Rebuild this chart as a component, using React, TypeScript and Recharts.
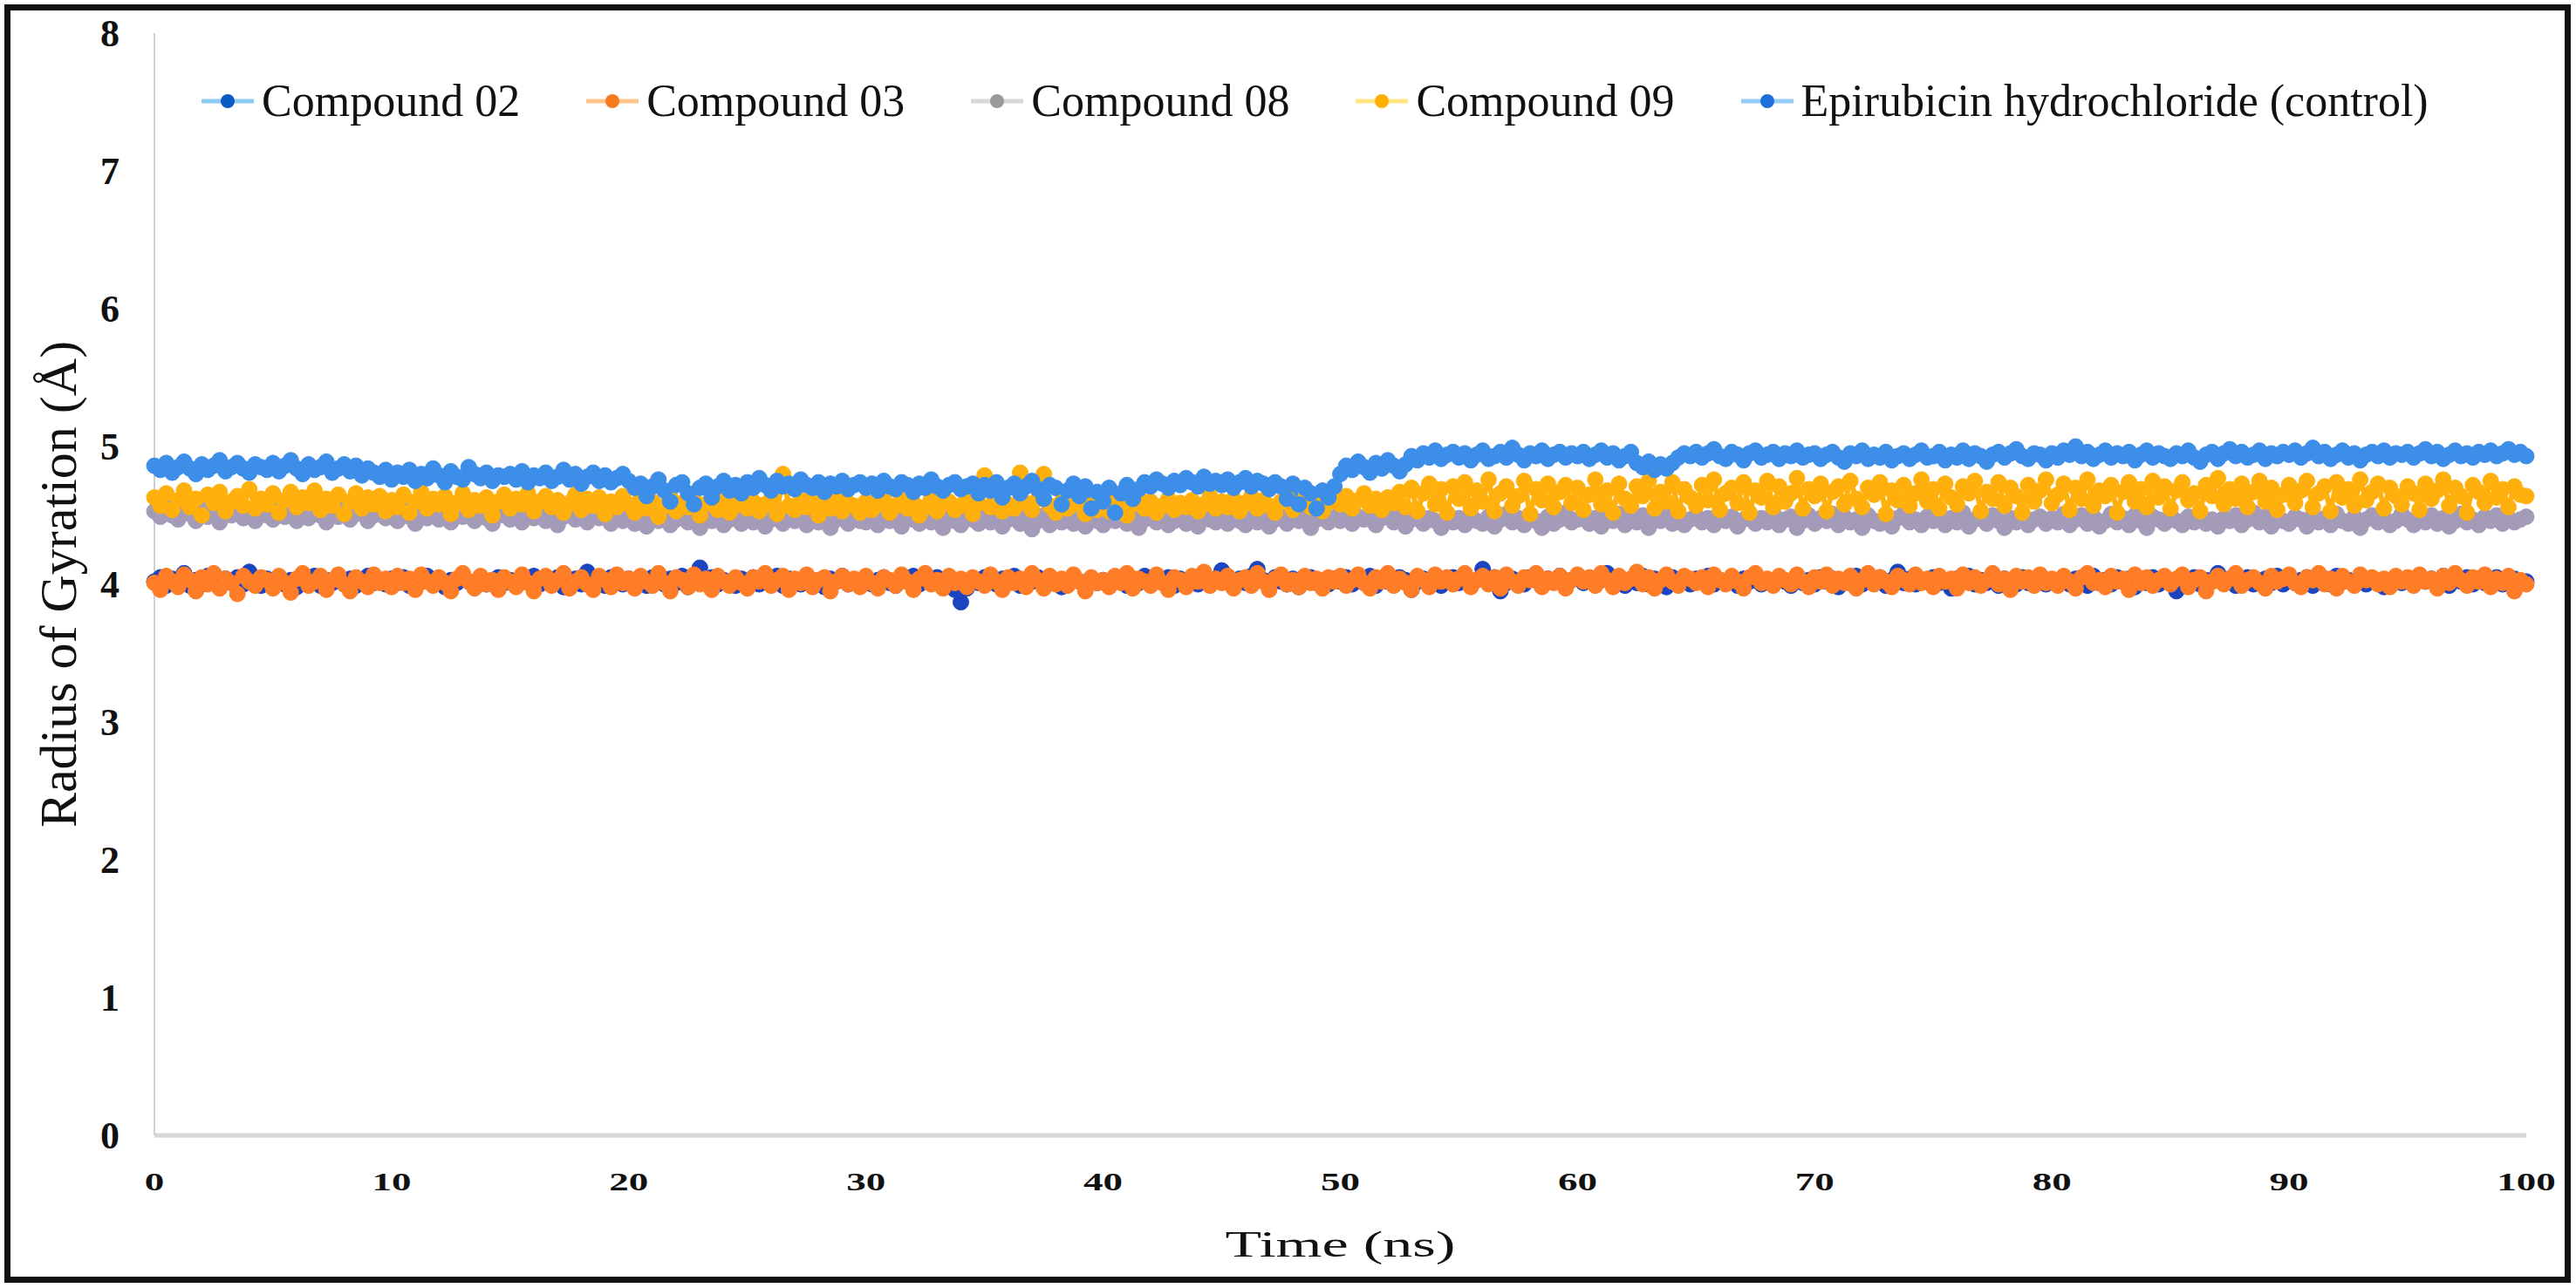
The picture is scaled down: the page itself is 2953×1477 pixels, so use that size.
import { LineChart, Line, XAxis, YAxis, Legend, Label } from 'recharts';

const SERIF = "'Liberation Serif', 'DejaVu Serif', serif";

// sampling of the trajectory, ns between frames
const TIME_STEP_NS = 0.25;
const X_TICKS = [0, 10, 20, 30, 40, 50, 60, 70, 80, 90, 100];
const Y_TICKS = [0, 1, 2, 3, 4, 5, 6, 7, 8];

// one row = 5 ns
const COMPOUND_02 = [
  4.02, 4.05, 3.99, 4.04, 4.01, 4.08, 3.99, 4.03, 4.00, 4.06, 4.02, 3.98, 4.04, 4.01, 4.05, 4.00, 4.09, 4.02, 3.99, 4.04,
  4.01, 4.05, 4.00, 4.03, 3.98, 4.04, 4.02, 4.06, 3.99, 4.03, 4.01, 4.05, 4.00, 4.04, 3.99, 4.02, 4.06, 4.01, 4.03, 4.00,
  4.04, 4.01, 4.05, 3.99, 4.03, 4.02, 4.06, 4.00, 4.04, 3.98, 4.03, 4.01, 4.05, 4.02, 3.99, 4.04, 4.00, 4.03, 4.05, 4.01,
  4.03, 3.99, 4.04, 4.02, 4.06, 4.00, 4.03, 4.01, 4.05, 3.98, 4.02, 4.04, 4.00, 4.09, 4.01, 4.03, 3.99, 4.05, 4.02, 4.00,
  4.04, 4.01, 4.03, 3.99, 4.05, 4.02, 4.00, 4.04, 4.01, 4.06, 3.98, 4.03, 4.12, 4.02, 4.05, 4.00, 4.03, 4.01, 3.99, 4.04,
  4.02, 4.05, 4.00, 4.03, 4.01, 4.06, 3.99, 4.04, 4.02, 4.00, 4.05, 4.01, 4.03, 3.98, 4.04, 4.02, 4.06, 4.00, 4.03, 4.01,
  4.04, 4.00, 4.03, 4.05, 4.01, 3.99, 4.04, 4.02, 4.06, 4.00, 4.03, 4.01, 4.05, 3.99, 4.02, 3.96, 3.87, 3.97, 4.03, 4.01,
  4.05, 4.02, 4.00, 4.04, 4.01, 4.06, 3.99, 4.03, 4.02, 4.05, 4.00, 4.04, 4.01, 3.98, 4.03, 4.05, 4.02, 4.00, 4.04, 4.01,
  4.03, 4.00, 4.05, 4.02, 3.99, 4.04, 4.01, 4.06, 4.00, 4.03, 4.02, 4.05, 3.99, 4.04, 4.01, 4.03, 4.00, 4.06, 4.02, 4.04,
  4.10, 4.02, 4.00, 4.04, 4.01, 4.06, 4.11, 4.03, 3.99, 4.05, 4.02, 4.00, 4.04, 3.98, 4.03, 4.05, 4.01, 4.03, 4.00, 4.04,
  4.02, 4.05, 4.00, 4.03, 4.01, 4.06, 3.99, 4.04, 4.02, 4.00, 4.05, 4.03, 3.96, 4.02, 4.04, 4.01, 4.06, 3.99, 4.03, 4.05,
  4.01, 4.04, 4.00, 4.03, 4.11, 4.02, 4.05, 3.95, 4.01, 4.04, 4.02, 4.00, 4.05, 4.03, 3.99, 4.04, 4.02, 4.06, 4.00, 4.03,
  4.05, 4.01, 4.04, 4.00, 4.03, 4.08, 4.02, 4.05, 3.99, 4.03, 4.01, 4.06, 4.00, 4.04, 4.02, 3.98, 4.05, 4.01, 4.03, 4.00,
  4.04, 4.02, 4.06, 4.00, 4.03, 4.01, 4.05, 3.99, 4.04, 4.02, 4.07, 4.00, 4.03, 4.01, 4.05, 4.02, 3.99, 4.04, 4.01, 4.03,
  4.00, 4.05, 4.02, 4.04, 3.98, 4.03, 4.01, 4.06, 4.00, 4.04, 4.02, 4.05, 3.99, 4.03, 4.09, 4.01, 4.04, 4.00, 4.03, 4.02,
  4.05, 4.01, 4.03, 3.97, 4.04, 4.02, 4.06, 4.00, 4.03, 4.01, 4.05, 3.99, 4.04, 4.02, 4.00, 4.05, 4.01, 4.03, 4.06, 4.00,
  4.03, 4.01, 4.05, 4.00, 4.04, 4.02, 3.99, 4.06, 4.01, 4.03, 4.00, 4.05, 4.02, 4.04, 3.98, 4.03, 4.01, 4.05, 4.00, 4.04,
  4.02, 3.95, 4.04, 4.01, 4.05, 4.00, 4.03, 4.02, 4.08, 4.01, 4.04, 3.99, 4.03, 4.05, 4.00, 4.02, 4.04, 4.01, 4.06, 4.00,
  4.04, 4.01, 4.03, 4.05, 3.99, 4.02, 4.04, 4.00, 4.06, 4.02, 4.03, 4.01, 4.05, 4.00, 4.04, 4.02, 3.98, 4.03, 4.05, 4.01,
  4.03, 4.00, 4.05, 4.02, 4.04, 4.01, 4.06, 3.99, 4.03, 4.02, 4.05, 4.00, 4.04, 4.01, 4.03, 4.05, 4.00, 4.02, 4.04, 4.01,
  4.02,
];

const COMPOUND_03 = [
  4.01, 3.96, 4.06, 4.02, 3.98, 4.07, 4.03, 3.95, 4.05, 4.00, 4.08, 3.97, 4.04, 4.01, 3.93, 4.06, 4.02, 3.99, 4.05, 4.03,
  3.97, 4.06, 4.01, 3.94, 4.04, 4.08, 3.99, 4.02, 4.06, 3.96, 4.03, 4.07, 4.00, 3.95, 4.05, 4.02, 3.98, 4.07, 4.01, 4.04,
  3.98, 4.06, 4.01, 4.04, 3.96, 4.07, 4.02, 3.99, 4.05, 4.01, 3.95, 4.04, 4.08, 4.02, 3.97, 4.06, 4.00, 4.03, 3.96, 4.05,
  4.02, 3.98, 4.07, 4.01, 3.95, 4.04, 4.06, 3.99, 4.03, 4.08, 3.97, 4.02, 4.05, 4.00, 3.96, 4.06, 4.03, 3.98, 4.07, 4.01,
  4.04, 3.97, 4.06, 4.02, 3.99, 4.08, 4.01, 3.95, 4.05, 4.03, 3.98, 4.07, 4.00, 4.04, 3.96, 4.06, 4.02, 3.99, 4.05, 4.01,
  3.97, 4.05, 4.02, 4.08, 3.99, 4.03, 4.06, 3.96, 4.04, 4.01, 4.07, 3.98, 4.03, 4.05, 3.95, 4.02, 4.06, 4.00, 4.04, 3.98,
  4.06, 4.01, 3.97, 4.05, 4.03, 3.99, 4.07, 4.02, 3.96, 4.04, 4.08, 4.00, 4.03, 3.97, 4.06, 4.01, 4.04, 3.98, 4.05, 4.02,
  3.99, 4.07, 4.02, 3.96, 4.05, 4.01, 4.04, 3.98, 4.08, 4.03, 3.97, 4.06, 4.00, 4.04, 3.99, 4.07, 4.02, 3.95, 4.05, 4.01,
  4.03, 3.98, 4.06, 4.01, 4.08, 3.97, 4.04, 4.02, 3.99, 4.07, 4.01, 3.96, 4.05, 4.03, 3.98, 4.06, 4.02, 4.09, 3.99, 4.04,
  4.01, 4.06, 3.97, 4.03, 4.05, 3.99, 4.08, 4.02, 3.96, 4.04, 4.07, 4.00, 4.03, 3.98, 4.06, 4.01, 4.04, 3.97, 4.05, 4.02,
  4.06, 3.99, 4.03, 4.07, 4.01, 3.97, 4.05, 4.02, 4.08, 3.99, 4.04, 4.01, 3.96, 4.06, 4.03, 3.98, 4.07, 4.02, 4.05, 4.00,
  4.04, 4.08, 3.98, 4.03, 4.06, 4.00, 4.05, 3.97, 4.07, 4.02, 3.99, 4.05, 4.03, 4.08, 3.98, 4.04, 4.01, 4.06, 3.97, 4.03,
  4.07, 4.02, 4.05, 3.99, 4.08, 4.03, 3.98, 4.06, 4.01, 4.04, 4.09, 4.00, 4.05, 3.97, 4.03, 4.07, 4.02, 3.99, 4.06, 4.04,
  4.01, 4.05, 3.98, 4.07, 4.03, 4.00, 4.06, 4.02, 3.97, 4.05, 4.08, 4.01, 4.04, 3.99, 4.06, 4.03, 4.00, 4.07, 4.02, 3.98,
  4.05, 4.02, 4.07, 3.99, 4.04, 4.01, 4.06, 3.97, 4.03, 4.08, 4.00, 4.05, 4.02, 3.98, 4.06, 4.03, 4.00, 4.07, 4.01, 4.04,
  3.98, 4.06, 4.02, 4.04, 3.97, 4.07, 4.01, 4.05, 3.99, 4.03, 4.08, 4.00, 4.04, 3.96, 4.06, 4.02, 4.05, 3.99, 4.07, 4.01,
  4.04, 3.99, 4.06, 4.02, 3.97, 4.05, 4.08, 4.01, 4.03, 3.98, 4.06, 4.02, 4.04, 3.96, 4.07, 4.01, 4.05, 3.99, 4.03, 4.06,
  4.00, 4.04, 4.07, 3.98, 4.03, 4.05, 3.95, 4.02, 4.06, 4.00, 4.04, 4.08, 3.99, 4.03, 4.05, 4.01, 3.97, 4.06, 4.02, 4.04,
  4.07, 4.01, 3.98, 4.05, 4.03, 4.08, 4.00, 4.04, 3.97, 4.06, 4.02, 3.99, 4.07, 4.03, 4.05, 4.00, 4.04, 3.98, 4.06, 4.02,
  4.05, 3.99, 4.07, 4.02, 4.04, 3.97, 4.06, 4.01, 4.08, 4.03, 3.99, 4.05, 4.02, 4.07, 3.98, 4.04, 4.01, 4.06, 3.95, 4.03,
  4.00,
];

const COMPOUND_08 = [
  4.53, 4.49, 4.56, 4.50, 4.47, 4.54, 4.51, 4.46, 4.55, 4.49, 4.52, 4.45, 4.53, 4.50, 4.57, 4.48, 4.52, 4.46, 4.54, 4.50,
  4.47, 4.53, 4.49, 4.55, 4.46, 4.51, 4.48, 4.54, 4.50, 4.45, 4.52, 4.49, 4.56, 4.47, 4.51, 4.53, 4.46, 4.50, 4.54, 4.48,
  4.51, 4.46, 4.53, 4.49, 4.44, 4.52, 4.48, 4.55, 4.47, 4.50, 4.45, 4.53, 4.49, 4.51, 4.46, 4.54, 4.48, 4.44, 4.52, 4.50,
  4.47, 4.52, 4.45, 4.50, 4.48, 4.53, 4.46, 4.51, 4.43, 4.49, 4.52, 4.47, 4.50, 4.45, 4.53, 4.48, 4.51, 4.44, 4.49, 4.46,
  4.50, 4.44, 4.48, 4.42, 4.51, 4.46, 4.49, 4.43, 4.47, 4.52, 4.45, 4.48, 4.41, 4.50, 4.46, 4.49, 4.43, 4.47, 4.51, 4.44,
  4.48, 4.45, 4.50, 4.42, 4.47, 4.51, 4.44, 4.49, 4.46, 4.52, 4.43, 4.48, 4.45, 4.50, 4.41, 4.47, 4.49, 4.44, 4.51, 4.46,
  4.45, 4.50, 4.43, 4.48, 4.46, 4.52, 4.42, 4.49, 4.47, 4.44, 4.51, 4.45, 4.48, 4.41, 4.50, 4.46, 4.43, 4.49, 4.47, 4.44,
  4.50, 4.45, 4.48, 4.42, 4.47, 4.51, 4.44, 4.49, 4.40, 4.46, 4.50, 4.43, 4.48, 4.45, 4.52, 4.44, 4.47, 4.42, 4.49, 4.46,
  4.43, 4.49, 4.46, 4.51, 4.44, 4.48, 4.41, 4.47, 4.50, 4.45, 4.49, 4.43, 4.46, 4.52, 4.44, 4.48, 4.42, 4.50, 4.47, 4.45,
  4.49, 4.44, 4.51, 4.46, 4.43, 4.48, 4.45, 4.50, 4.42, 4.47, 4.49, 4.44, 4.52, 4.46, 4.48, 4.41, 4.47, 4.50, 4.45, 4.49,
  4.46, 4.51, 4.44, 4.49, 4.47, 4.52, 4.43, 4.48, 4.50, 4.45, 4.49, 4.42, 4.47, 4.51, 4.44, 4.48, 4.46, 4.41, 4.49, 4.45,
  4.48, 4.43, 4.50, 4.46, 4.44, 4.49, 4.42, 4.47, 4.51, 4.45, 4.48, 4.43, 4.50, 4.46, 4.41, 4.49, 4.44, 4.47, 4.52, 4.45,
  4.47, 4.50, 4.44, 4.48, 4.42, 4.49, 4.46, 4.51, 4.43, 4.47, 4.45, 4.50, 4.41, 4.48, 4.46, 4.52, 4.44, 4.49, 4.43, 4.47,
  4.50, 4.45, 4.48, 4.43, 4.51, 4.46, 4.49, 4.42, 4.47, 4.50, 4.44, 4.48, 4.45, 4.52, 4.43, 4.47, 4.49, 4.41, 4.46, 4.50,
  4.44, 4.48, 4.46, 4.51, 4.43, 4.49, 4.45, 4.47, 4.41, 4.50, 4.46, 4.44, 4.49, 4.42, 4.48, 4.51, 4.45, 4.47, 4.43, 4.49,
  4.46, 4.50, 4.43, 4.48, 4.45, 4.52, 4.42, 4.47, 4.49, 4.44, 4.50, 4.46, 4.41, 4.48, 4.45, 4.51, 4.43, 4.47, 4.49, 4.44,
  4.48, 4.45, 4.51, 4.43, 4.47, 4.50, 4.44, 4.49, 4.42, 4.46, 4.51, 4.45, 4.48, 4.43, 4.50, 4.46, 4.41, 4.49, 4.47, 4.44,
  4.50, 4.46, 4.43, 4.49, 4.45, 4.51, 4.44, 4.47, 4.42, 4.48, 4.46, 4.50, 4.43, 4.47, 4.52, 4.45, 4.49, 4.42, 4.48, 4.46,
  4.44, 4.49, 4.47, 4.42, 4.50, 4.45, 4.48, 4.43, 4.51, 4.46, 4.44, 4.49, 4.41, 4.47, 4.50, 4.45, 4.48, 4.43, 4.46, 4.51,
  4.47, 4.43, 4.49, 4.45, 4.50, 4.44, 4.48, 4.42, 4.46, 4.51, 4.45, 4.47, 4.43, 4.49, 4.46, 4.50, 4.44, 4.48, 4.45, 4.47,
  4.49,
];

const COMPOUND_09 = [
  4.63, 4.57, 4.66, 4.54, 4.61, 4.68, 4.56, 4.62, 4.50, 4.65, 4.59, 4.67, 4.53, 4.60, 4.64, 4.57, 4.69, 4.55, 4.62, 4.58,
  4.66, 4.52, 4.61, 4.67, 4.56, 4.63, 4.59, 4.68, 4.54, 4.62, 4.57, 4.65, 4.51, 4.60, 4.66, 4.55, 4.63, 4.58, 4.64, 4.53,
  4.61, 4.56, 4.65, 4.52, 4.60, 4.67, 4.55, 4.62, 4.58, 4.64, 4.51, 4.59, 4.66, 4.54, 4.61, 4.57, 4.63, 4.50, 4.60, 4.65,
  4.55, 4.62, 4.58, 4.66, 4.53, 4.60, 4.64, 4.56, 4.61, 4.52, 4.59, 4.65, 4.54, 4.62, 4.57, 4.63, 4.51, 4.60, 4.56, 4.64,
  4.58, 4.52, 4.62, 4.55, 4.60, 4.49, 4.57, 4.63, 4.53, 4.59, 4.56, 4.61, 4.50, 4.58, 4.64, 4.54, 4.60, 4.52, 4.57, 4.62,
  4.55, 4.60, 4.53, 4.58, 4.62, 4.51, 4.80, 4.57, 4.54, 4.61, 4.56, 4.63, 4.50, 4.58, 4.55, 4.62, 4.53, 4.59, 4.57, 4.52,
  4.60, 4.54, 4.58, 4.63, 4.52, 4.57, 4.61, 4.55, 4.59, 4.50, 4.56, 4.62, 4.53, 4.58, 4.60, 4.54, 4.57, 4.63, 4.51, 4.59,
  4.79, 4.56, 4.60, 4.53, 4.58, 4.55, 4.81, 4.59, 4.54, 4.62, 4.80, 4.57, 4.52, 4.60, 4.55, 4.58, 4.62, 4.51, 4.57, 4.54,
  4.59, 4.53, 4.61, 4.56, 4.50, 4.58, 4.63, 4.55, 4.60, 4.52, 4.57, 4.62, 4.54, 4.59, 4.56, 4.61, 4.53, 4.58, 4.64, 4.55,
  4.60, 4.56, 4.62, 4.53, 4.59, 4.64, 4.55, 4.61, 4.57, 4.52, 4.60, 4.63, 4.54, 4.58, 4.62, 4.56, 4.60, 4.53, 4.59, 4.63,
  4.58, 4.64, 4.55, 4.61, 4.66, 4.57, 4.62, 4.54, 4.63, 4.59, 4.67, 4.56, 4.70, 4.53, 4.66, 4.73, 4.58, 4.69, 4.52, 4.71,
  4.62, 4.74, 4.55, 4.68, 4.60, 4.76, 4.53, 4.66, 4.71, 4.57, 4.64, 4.75, 4.51, 4.69, 4.61, 4.73, 4.56, 4.67, 4.72, 4.59,
  4.70, 4.54, 4.65, 4.76, 4.58, 4.68, 4.52, 4.73, 4.62, 4.57, 4.71, 4.64, 4.75, 4.55, 4.67, 4.60, 4.74, 4.53, 4.69, 4.63,
  4.57, 4.72, 4.61, 4.76, 4.54, 4.66, 4.70, 4.59, 4.74, 4.52, 4.68, 4.63, 4.75, 4.56, 4.71, 4.60, 4.66, 4.77, 4.55, 4.69,
  4.64, 4.73, 4.53, 4.67, 4.71, 4.58, 4.75, 4.62, 4.56, 4.70, 4.65, 4.74, 4.51, 4.68, 4.61, 4.72, 4.57, 4.66, 4.76, 4.60,
  4.69, 4.55, 4.73, 4.63, 4.58, 4.71, 4.66, 4.75, 4.53, 4.67, 4.62, 4.74, 4.57, 4.70, 4.64, 4.52, 4.72, 4.60, 4.68, 4.76,
  4.59, 4.65, 4.73, 4.54, 4.70, 4.62, 4.76, 4.57, 4.68, 4.64, 4.72, 4.52, 4.67, 4.74, 4.60, 4.69, 4.56, 4.75, 4.63, 4.71,
  4.55, 4.68, 4.74, 4.61, 4.66, 4.53, 4.72, 4.64, 4.77, 4.58, 4.69, 4.62, 4.73, 4.56, 4.67, 4.75, 4.60, 4.70, 4.54, 4.65,
  4.72, 4.59, 4.68, 4.75, 4.56, 4.66, 4.71, 4.53, 4.74, 4.63, 4.69, 4.57, 4.76, 4.61, 4.67, 4.73, 4.55, 4.70, 4.64, 4.58,
  4.71, 4.66, 4.54, 4.73, 4.62, 4.68, 4.76, 4.57, 4.70, 4.64, 4.52, 4.72, 4.67, 4.59, 4.75, 4.63, 4.69, 4.56, 4.71, 4.65,
  4.64,
];

const EPIRUBICIN = [
  4.86, 4.83, 4.88, 4.81, 4.85, 4.89, 4.84, 4.80, 4.87, 4.83, 4.86, 4.90, 4.82, 4.85, 4.88, 4.84, 4.81, 4.87, 4.85, 4.83,
  4.88, 4.82, 4.86, 4.90, 4.84, 4.80, 4.87, 4.83, 4.85, 4.89, 4.81, 4.84, 4.87, 4.82, 4.86, 4.79, 4.84, 4.81, 4.78, 4.83,
  4.76, 4.81, 4.78, 4.83, 4.75, 4.80, 4.77, 4.84, 4.79, 4.74, 4.82, 4.78, 4.76, 4.85, 4.80, 4.77, 4.81, 4.75, 4.79, 4.78,
  4.80, 4.76, 4.82, 4.74, 4.79, 4.77, 4.81, 4.75, 4.78, 4.83, 4.76, 4.80, 4.73, 4.78, 4.81, 4.75, 4.79, 4.74, 4.77, 4.80,
  4.75, 4.70, 4.73, 4.64, 4.71, 4.76, 4.68, 4.60, 4.72, 4.74, 4.66, 4.58, 4.70, 4.73, 4.63, 4.71, 4.75, 4.68, 4.72, 4.66,
  4.74, 4.70, 4.77, 4.72, 4.68, 4.75, 4.71, 4.73, 4.69, 4.76, 4.72, 4.70, 4.74, 4.67, 4.73, 4.71, 4.75, 4.69, 4.72, 4.74,
  4.70, 4.73, 4.68, 4.75, 4.71, 4.69, 4.74, 4.72, 4.67, 4.73, 4.70, 4.76, 4.71, 4.68, 4.72, 4.74, 4.69, 4.71, 4.73, 4.66,
  4.72, 4.68, 4.74, 4.63, 4.70, 4.73, 4.66, 4.71, 4.75, 4.69, 4.62, 4.72, 4.70, 4.58, 4.68, 4.73, 4.64, 4.71, 4.55, 4.67,
  4.60, 4.70, 4.52, 4.66, 4.72, 4.62, 4.69, 4.74, 4.71, 4.76, 4.73, 4.70, 4.75, 4.72, 4.77, 4.74, 4.71, 4.78, 4.73, 4.75,
  4.72, 4.76, 4.70, 4.74, 4.77, 4.71, 4.75, 4.73, 4.69, 4.74, 4.71, 4.62, 4.73, 4.58, 4.70, 4.66, 4.55, 4.68, 4.63, 4.71,
  4.80, 4.86, 4.83, 4.89, 4.85, 4.81, 4.88, 4.84, 4.90, 4.86, 4.82, 4.87, 4.93, 4.90, 4.95, 4.92, 4.97, 4.91, 4.94, 4.96,
  4.92, 4.95, 4.90, 4.94, 4.97, 4.91, 4.93, 4.96, 4.92, 4.99, 4.94, 4.90, 4.95, 4.93, 4.97, 4.91, 4.94, 4.96, 4.92, 4.95,
  4.93, 4.96, 4.91, 4.94, 4.97, 4.92, 4.95, 4.90, 4.93, 4.96, 4.88, 4.85, 4.89, 4.83, 4.87, 4.84, 4.88, 4.92, 4.95, 4.93,
  4.96, 4.92, 4.95, 4.98, 4.93, 4.91, 4.96, 4.94, 4.90, 4.95, 4.97, 4.92, 4.94, 4.96, 4.91, 4.95, 4.93, 4.97, 4.92, 4.94,
  4.95, 4.91, 4.94, 4.96, 4.92, 4.89, 4.95, 4.93, 4.97, 4.91, 4.94, 4.92, 4.96, 4.90, 4.93, 4.95, 4.91, 4.94, 4.97, 4.92,
  4.93, 4.96, 4.90, 4.94, 4.92, 4.97, 4.91, 4.95, 4.93, 4.89, 4.94, 4.96, 4.92, 4.95, 4.98, 4.93, 4.91, 4.95, 4.94, 4.90,
  4.95, 4.92, 4.97, 4.94, 5.00, 4.93, 4.96, 4.91, 4.94, 4.97, 4.92, 4.95, 4.93, 4.96, 4.90, 4.94, 4.97, 4.92, 4.95, 4.93,
  4.91, 4.95, 4.93, 4.97, 4.92, 4.89, 4.94, 4.96, 4.91, 4.95, 4.98, 4.93, 4.96, 4.92, 4.94, 4.97, 4.91, 4.95, 4.93, 4.96,
  4.94, 4.97, 4.92, 4.95, 4.99, 4.93, 4.96, 4.91, 4.94, 4.97, 4.92, 4.95, 4.90, 4.94, 4.96, 4.93, 4.97, 4.92, 4.95, 4.94,
  4.96, 4.92, 4.95, 4.98, 4.93, 4.96, 4.91, 4.94, 4.97, 4.93, 4.95, 4.92, 4.96, 4.94, 4.97, 4.93, 4.95, 4.98, 4.94, 4.96,
  4.93,
];

// drawing order follows the legend: later series sit on top
const SERIES = [
  { key: 'c02', name: 'Compound 02', values: COMPOUND_02, color: '#1b45c0', legendLine: '#8ecbf5', legendDot: '#0a5bc4' },
  { key: 'c03', name: 'Compound 03', values: COMPOUND_03, color: '#ff7d26', legendLine: '#ffc58a', legendDot: '#f47b20' },
  { key: 'c08', name: 'Compound 08', values: COMPOUND_08, color: '#a39bb8', legendLine: '#d8d8d8', legendDot: '#9a9a9a' },
  { key: 'c09', name: 'Compound 09', values: COMPOUND_09, color: '#ffb00d', legendLine: '#ffe680', legendDot: '#ffb000' },
  { key: 'epi', name: 'Epirubicin hydrochloride (control)', values: EPIRUBICIN, color: '#3d8ee9', legendLine: '#93cdf7', legendDot: '#1e6fdc' },
];

const chartData = EPIRUBICIN.map((_, i) => {
  const row: Record<string, number> = { t: i * TIME_STEP_NS };
  SERIES.forEach((s) => {
    row[s.key] = s.values[i];
  });
  return row;
});

function XTick({ x, y, payload }: any) {
  return (
    <g transform={`translate(${x},${y + 63})`}>
      <text transform="scale(1.5,1)" textAnchor="middle" fontSize={30} fontWeight={700} fontFamily={SERIF} fill="#111">
        {payload.value}
      </text>
    </g>
  );
}

function YTick({ x, y, payload }: any) {
  return (
    <text x={x - 40} y={y} dy="0.35em" textAnchor="end" fontSize={44} fontWeight={700} fontFamily={SERIF} fill="#111">
      {payload.value}
    </text>
  );
}

function LegendRow() {
  return (
    <div style={{ display: 'flex', alignItems: 'center', gap: 76, fontFamily: SERIF, fontSize: 52, color: '#111', whiteSpace: 'nowrap' }}>
      {SERIES.map((s) => (
        <div key={s.key} style={{ display: 'flex', alignItems: 'center', gap: 9 }}>
          <svg width={60} height={20}>
            <line x1={0} y1={10} x2={60} y2={10} stroke={s.legendLine} strokeWidth={5} />
            <circle cx={30} cy={10} r={8} fill={s.legendDot} />
          </svg>
          <span>{s.name}</span>
        </div>
      ))}
    </div>
  );
}

export default function App() {
  return (
    <div style={{ position: 'absolute', left: 0, top: 0, width: 2953, height: 1477, background: '#fff' }}>
      <LineChart width={2953} height={1477} data={chartData} margin={{ top: 38, right: 57, bottom: 0, left: 0 }}>
        <XAxis
          dataKey="t"
          type="number"
          domain={[0, 100]}
          ticks={X_TICKS}
          height={175}
          tickLine={false}
          tickSize={0}
          tickMargin={0}
          axisLine={{ stroke: '#d6d6d6', strokeWidth: 5 }}
          tick={<XTick />}
        >
          <Label
            content={({ viewBox }: any) => (
              <g transform={`translate(${viewBox.x + viewBox.width / 2},${viewBox.y + 139})`}>
                <text transform="scale(1.62,1)" textAnchor="middle" fontSize={42} fontFamily={SERIF} fill="#111">
                  Time (ns)
                </text>
              </g>
            )}
          />
        </XAxis>
        <YAxis
          type="number"
          domain={[0, 8]}
          ticks={Y_TICKS}
          width={177}
          tickLine={false}
          tickSize={0}
          tickMargin={0}
          axisLine={{ stroke: '#cfcfcf', strokeWidth: 2 }}
          tick={<YTick />}
        >
          <Label
            content={({ viewBox }: any) => (
              <text
                transform={`translate(${viewBox.x + 67},${viewBox.y + viewBox.height / 2}) rotate(-90)`}
                textAnchor="middle"
                dominantBaseline="central"
                fontSize={60}
                fontFamily={SERIF}
                fill="#111"
              >
                Radius of Gyration (Å)
              </text>
            )}
          />
        </YAxis>
        <Legend
          layout="horizontal"
          verticalAlign="middle"
          align="center"
          content={() => <LegendRow />}
          wrapperStyle={{ top: 86, left: 231, width: 'auto' }}
        />
        {SERIES.map((s) => (
          <Line
            key={s.key}
            dataKey={s.key}
            name={s.name}
            type="linear"
            stroke={s.color}
            strokeWidth={6}
            strokeLinejoin="round"
            dot={{ r: 9, fill: s.color, stroke: s.color, strokeWidth: 1 }}
            activeDot={false}
            isAnimationActive={false}
          />
        ))}
      </LineChart>
      <div
        style={{
          position: 'absolute',
          left: 5,
          top: 5,
          width: 2942,
          height: 1466,
          boxSizing: 'border-box',
          border: '7px solid #111',
          pointerEvents: 'none',
        }}
      />
    </div>
  );
}
